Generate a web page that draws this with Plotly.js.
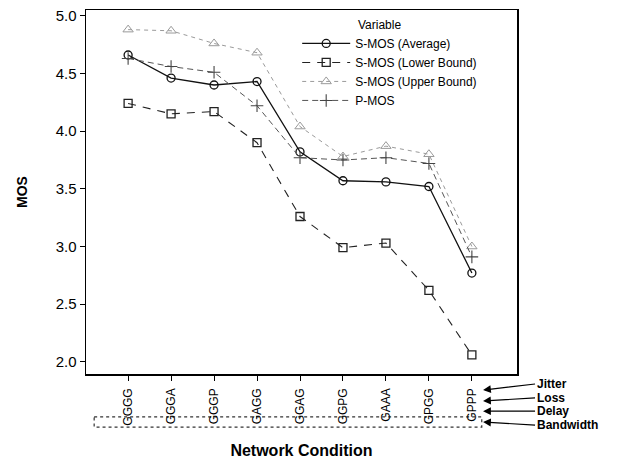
<!DOCTYPE html>
<html>
<head>
<meta charset="utf-8">
<script src="https://cdn.plot.ly/plotly-3.0.1.min.js"></script>
<style>
html,body{margin:0;padding:0;background:#fff;}
#chart{width:629px;height:459px;}
</style>
</head>
<body>
<div id="chart"></div>
<script>
var conditions = ["GGGG","GGGA","GGGP","GAGG","GGAG","GGPG","GAAA","GPGG","GPPP"];
var smosAverage = [4.66, 4.46, 4.40, 4.43, 3.82, 3.57, 3.56, 3.52, 2.77];
var smosLower   = [4.24, 4.15, 4.17, 3.90, 3.26, 2.99, 3.03, 2.62, 2.06];
var smosUpper   = [4.88, 4.87, 4.76, 4.68, 4.04, 3.78, 3.87, 3.80, 3.00];
var pmos        = [4.63, 4.56, 4.51, 4.22, 3.77, 3.75, 3.77, 3.72, 2.91];
var seriesNames = ["S-MOS (Average)","S-MOS (Lower Bound)","S-MOS (Upper Bound)","P-MOS"];
var parameterLabels = ["Jitter","Loss","Delay","Bandwidth"];
var yTicks = [2.0, 2.5, 3.0, 3.5, 4.0, 4.5, 5.0];

var idx = conditions.map(function(_, i){ return i; });
var FONT = "Liberation Sans, Arial, sans-serif";

var traces = [
  {x: idx, y: smosAverage, name: seriesNames[0], mode: "lines+markers",
   line: {color: "#111", width: 1.3, dash: "solid"},
   marker: {symbol: "circle-open", size: 8, color: "#111", line: {width: 1.3}}},
  {x: idx, y: smosLower, name: seriesNames[1], mode: "lines+markers",
   line: {color: "#222", width: 1.1, dash: "8px,7px"},
   marker: {symbol: "square-open", size: 8, color: "#222", line: {width: 1.3}}},
  {x: idx, y: smosUpper, name: seriesNames[2], mode: "lines+markers",
   line: {color: "#9a9a9a", width: 1.0, dash: "4px,4px"},
   marker: {symbol: "triangle-up-open", size: 9, color: "#9a9a9a", line: {width: 1.0}}},
  {x: idx, y: pmos, name: seriesNames[3], mode: "lines+markers",
   line: {color: "#555", width: 1.0, dash: "6px,4px"},
   marker: {symbol: "cross-thin-open", size: 9, color: "#444", line: {width: 1.1, color: "#444"}}}
];

var headYs = [-0.044, -0.074, -0.102, -0.132];
var tailOffsets = [-6, -3, 0, 3];
var annotations = parameterLabels.map(function(t, i){
  return {
    xref: "x", yref: "paper", x: 8.26, y: headYs[i],
    text: "<b>" + t + "</b>", showarrow: true,
    arrowhead: 2, arrowsize: 1.3, arrowwidth: 1.2, arrowcolor: "#000",
    ax: 52, ay: tailOffsets[i], xanchor: "left", yanchor: "middle",
    font: {family: FONT, size: 12, color: "#000"}
  };
});
annotations.push({
  xref: "paper", yref: "paper", x: 0.627, y: 0.959, xanchor: "left", yanchor: "middle",
  text: "Variable", showarrow: false, font: {family: FONT, size: 12, color: "#000"}
});

var layout = {
  width: 629, height: 459,
  margin: {l: 86, r: 112, t: 10, b: 85},
  paper_bgcolor: "#fff", plot_bgcolor: "#fff",
  font: {family: FONT, color: "#000"},
  showlegend: true,
  legend: {
    x: 0.49, y: 0.948, xanchor: "left", yanchor: "top",
    bgcolor: "rgba(255,255,255,0)", borderwidth: 0,
    font: {size: 12}, tracegroupgap: 0, itemwidth: 48
  },
  xaxis: {
    range: [-0.98, 9.05], tickmode: "array", tickvals: idx, ticktext: conditions,
    tickangle: -90, ticks: "outside", ticklen: 5, tickwidth: 1, tickcolor: "#000",
    ticklabelstandoff: 3,
    showgrid: false, zeroline: false, showline: true, linecolor: "#000", linewidth: 1.5,
    mirror: true, tickfont: {size: 12},
    title: {text: "<b>Network Condition</b>", font: {size: 16}, standoff: 27}
  },
  yaxis: {
    range: [1.895, 5.05], tickmode: "array", tickvals: yTicks,
    ticktext: yTicks.map(function(v){ return v.toFixed(1); }),
    ticks: "outside", ticklen: 5, tickwidth: 1, tickcolor: "#000",
    showgrid: false, zeroline: false, showline: true, linecolor: "#000", linewidth: 1.5,
    mirror: true, tickfont: {size: 15},
    title: {text: "<b>MOS</b>", font: {size: 14}, standoff: 24}
  },
  shapes: [{
    type: "rect", xref: "x", yref: "paper", x0: -0.79, x1: 8.23, y0: -0.118, y1: -0.146,
    line: {color: "#333", width: 1.2, dash: "dot"}, fillcolor: "rgba(0,0,0,0)", layer: "below"
  }],
  annotations: annotations
};

Plotly.newPlot("chart", traces, layout, {displayModeBar: false, staticPlot: true});
</script>
</body>
</html>
